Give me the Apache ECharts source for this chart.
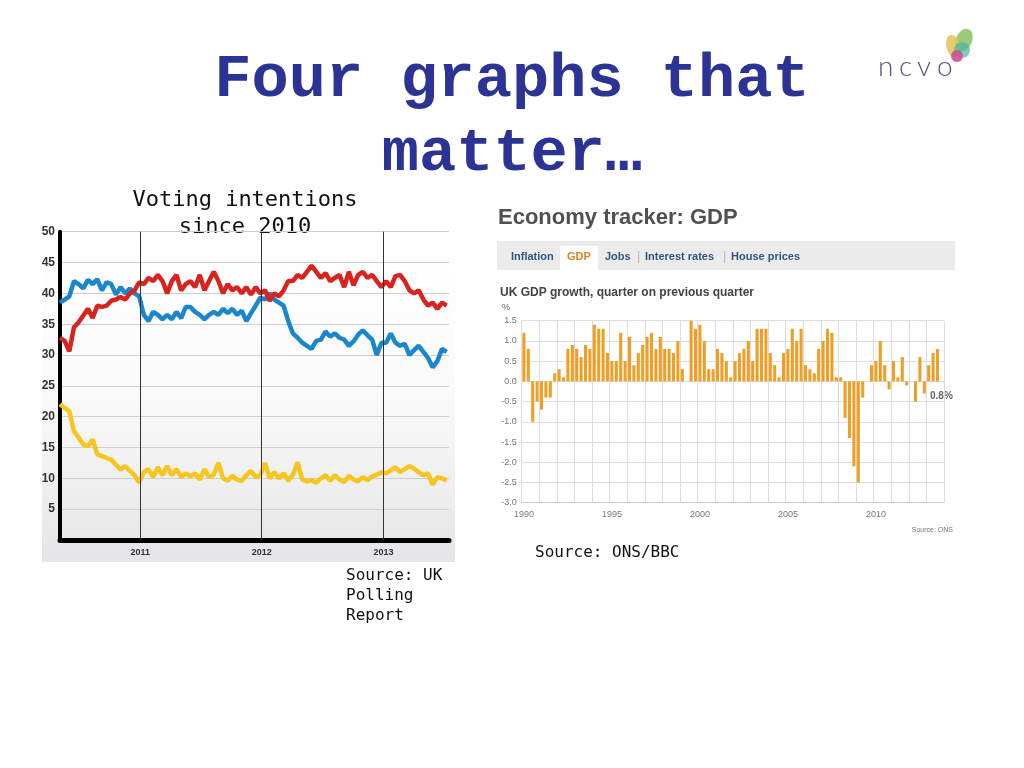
<!DOCTYPE html>
<html><head><meta charset="utf-8">
<script src="https://cdn.jsdelivr.net/npm/echarts@6.0.0/dist/echarts.min.js"></script>
<style>html,body{margin:0;padding:0;background:#fff}#c{width:1024px;height:768px}</style>
</head><body><div id="c"></div>
<script>
// ---------- Voting intentions (fortnightly readings) ----------
const pollStart = '2010-05-05';
const pollStepDays = 14;
const pollEnd = '2013-07-17';
const labour = [32.8,32.3,30.6,34.5,35.3,36.4,37.5,36.0,38.0,37.8,38.0,38.8,39.0,39.4,
  39.0,40.0,40.5,41.8,41.5,42.5,42.0,43.0,42.0,40.0,42.0,43.0,40.5,41.5,
  42.0,41.0,43.0,40.5,42.0,43.5,42.0,40.0,41.5,40.5,41.0,40.0,41.0,39.8,
  41.0,40.0,40.5,38.8,40.0,39.5,40.5,42.0,42.0,43.0,42.5,43.5,44.5,43.5,
  42.5,43.3,42.0,42.5,43.0,41.0,43.5,41.3,43.0,43.5,42.5,43.0,42.0,41.0,
  42.0,41.0,42.8,43.0,42.0,40.5,40.0,40.5,39.0,38.0,38.5,37.5,38.5,38.0];
const conservative = [38.5,39.0,39.5,42.0,41.5,40.8,42.2,41.5,42.3,40.5,41.8,41.5,39.8,41.0,
  40.0,40.8,40.0,39.5,36.5,35.5,37.0,36.5,35.8,36.5,35.8,37.0,36.0,37.8,
  37.8,37.0,36.5,35.8,36.5,37.0,36.5,37.5,36.8,37.5,36.5,37.2,35.5,36.8,
  38.0,39.3,39.0,40.0,39.0,38.5,38.0,35.5,33.5,32.8,32.0,31.5,31.0,32.3,
  32.5,33.8,33.0,33.5,32.8,32.5,31.5,32.2,33.3,34.0,33.2,32.5,30.0,32.0,
  32.0,33.5,32.0,31.5,31.8,30.0,30.8,31.5,30.5,29.5,28.0,29.0,31.0,30.5];
const libDem = [22.0,21.4,20.9,17.6,16.6,15.5,15.2,16.3,13.9,13.6,13.3,13.0,12.2,11.4,
  12.0,11.2,10.5,9.3,11.0,11.5,10.2,11.8,10.5,12.0,10.5,11.5,10.2,10.8,
  10.3,10.8,9.8,11.5,10.2,10.6,12.5,10.0,9.6,10.4,9.8,9.6,10.5,11.2,
  10.2,10.5,12.5,10.0,11.0,10.0,10.8,9.6,10.6,12.6,9.8,9.5,9.7,9.3,
  10.0,10.5,9.6,10.5,9.8,9.4,10.4,9.8,9.5,10.2,9.7,10.3,10.6,11.0,
  10.8,11.3,11.8,11.0,11.5,12.0,11.6,11.0,10.5,10.8,9.0,10.2,10.0,9.6];
const yearMarks = ['2011-01-01','2012-01-01','2013-01-01'];
const yearMarkLabels = ['2011','2012','2013'];

// ---------- UK GDP growth, quarter on previous quarter ----------
const gdpFirstYear = 1990, gdpLastYear = 2013;
const gdpGrowth = [1.2,0.8,-1.0,-0.5,-0.7,-0.4,-0.4,0.2,0.3,0.1,0.8,0.9,0.8,0.6,0.9,0.8,
  1.4,1.3,1.3,0.7,0.5,0.5,1.2,0.5,1.1,0.4,0.7,0.9,1.1,1.2,0.8,1.1,
  0.8,0.8,0.7,1.0,0.3,0.0,1.5,1.3,1.4,1.0,0.3,0.3,0.8,0.7,0.5,0.1,
  0.5,0.7,0.8,1.0,0.5,1.3,1.3,1.3,0.7,0.4,0.1,0.7,0.8,1.3,1.0,1.3,
  0.4,0.3,0.2,0.8,1.0,1.3,1.2,0.1,0.1,-0.9,-1.4,-2.1,-2.5,-0.4,0.0,0.4,
  0.5,1.0,0.4,-0.2,0.5,0.1,0.6,-0.1,0.0,-0.5,0.6,-0.3,0.4,0.7,0.8];
const gdpYTicks = {min:-3, max:1.5, step:0.5};
const gdpLatestLabel = '0.8%';

const toTime = s => new Date(s + 'T00:00:00').getTime();
const startT = toTime(pollStart);
const pollTimes = labour.map((_, i) => startT + i * pollStepDays * 86400000);
const gdpQuarters = [];
for (let y = gdpFirstYear; y <= gdpLastYear; y++) for (let q = 1; q <= 4; q++) gdpQuarters.push(y + ' Q' + q);

const mono = '"DejaVu Sans Mono", "Liberation Mono", monospace';
const titleMono = '"Liberation Mono", "DejaVu Sans Mono", monospace';
const sans = '"Liberation Sans", Arial, sans-serif';
const logoFont = '300 28px Lato, "Open Sans", sans-serif';
const chart = echarts.init(document.getElementById('c'), null, {renderer:'canvas'});

const txt = (x, y, text, font, fill, align, extra) => Object.assign({
  type:'text', x, y, silent:true,
  style:{text, font, fill, textAlign: align || 'left', textVerticalAlign:'middle'}
}, extra || {});

chart.setOption({
  animation:false,
  backgroundColor:'#ffffff',
  grid:[
    {left:60, top:231.7, width:389, height:308.3},
    {left:521.7, top:320.7, width:422.4, height:182}
  ],
  xAxis:[
    {gridIndex:0, type:'time', min:startT, max:toTime(pollEnd),
     axisLine:{show:true, onZero:false, lineStyle:{color:'#000', width:5}},
     axisTick:{show:false}, axisLabel:{show:false}, splitLine:{show:false}},
    {gridIndex:1, type:'category', data:gdpQuarters, boundaryGap:true,
     axisLine:{show:true, onZero:false, lineStyle:{color:'#cccccc'}},
     axisTick:{show:false},
     axisLabel:{interval:(i) => i % 20 === 0 && i <= 80, formatter:v => v.slice(0,4),
       color:'#777', fontSize:9, fontFamily:sans, margin:7},
     splitLine:{show:true, interval:(i) => i % 4 === 0, lineStyle:{color:'#dddddd'}}}
  ],
  yAxis:[
    {gridIndex:0, type:'value', min:0, max:50, interval:5,
     axisLine:{show:true, lineStyle:{color:'#000', width:4}}, axisTick:{show:false},
     axisLabel:{formatter:v => v === 0 ? '' : String(v), fontFamily:'"Liberation Sans Narrow", "Liberation Sans", sans-serif',
       fontWeight:'bold', fontSize:12, color:'#333', margin:5},
     splitLine:{lineStyle:{color:'#cfcfcf'}}},
    {gridIndex:1, type:'value', min:gdpYTicks.min, max:gdpYTicks.max, interval:gdpYTicks.step,
     axisLine:{show:false}, axisTick:{show:false},
     axisLabel:{formatter:v => v.toFixed(1), fontSize:9, color:'#777', fontFamily:sans, margin:5},
     splitLine:{lineStyle:{color:'#dddddd'}}}
  ],
  series:[
    {type:'line', name:'Conservative', xAxisIndex:0, yAxisIndex:0, showSymbol:false, z:3,
     data:pollTimes.map((t, i) => [t, conservative[i]]),
     lineStyle:{color:'#1a86cc', width:4.5},
     markLine:{silent:true, symbol:['none','none'], animation:false,
       lineStyle:{color:'#333', width:1, type:'solid'},
       label:{position:'start', formatter:p => p.name, fontSize:9, fontWeight:'bold', color:'#333', fontFamily:sans, distance:8},
       data:yearMarks.map((d, i) => ({name:yearMarkLabels[i], xAxis:toTime(d)}))}},
    {type:'line', name:'Labour', xAxisIndex:0, yAxisIndex:0, showSymbol:false, z:4,
     data:pollTimes.map((t, i) => [t, labour[i]]),
     lineStyle:{color:'#d8231f', width:4.5}},
    {type:'line', name:'Lib Dem', xAxisIndex:0, yAxisIndex:0, showSymbol:false, z:4,
     data:pollTimes.map((t, i) => [t, libDem[i]]),
     lineStyle:{color:'#f7c51e', width:4.5}},
    {type:'bar', name:'GDP growth', xAxisIndex:1, yAxisIndex:1, barWidth:'70%',
     data:gdpGrowth, itemStyle:{color:'#EF9E26'}}
  ],
  graphic:[
    {type:'rect', z:-10, silent:true, shape:{x:42, y:228, width:413, height:334},
     style:{fill:new echarts.graphic.LinearGradient(0,0,0,1,[
       {offset:0, color:'#ffffff'},{offset:0.5, color:'#fafafa'},{offset:1, color:'#e5e5e7'}])}},
    txt(512, 80, 'Four graphs that', 'bold 62px ' + titleMono, '#2B3394', 'center'),
    txt(512, 154, 'matter\u2026', 'bold 62px ' + titleMono, '#2B3394', 'center'),
    txt(245, 200, 'Voting intentions', '22px ' + mono, '#111', 'center'),
    txt(245, 227, 'since 2010', '22px ' + mono, '#111', 'center'),
    txt(346, 576, 'Source: UK', '16px ' + mono, '#111'),
    txt(346, 596, 'Polling', '16px ' + mono, '#111'),
    txt(346, 616, 'Report', '16px ' + mono, '#111'),
    txt(535, 553, 'Source: ONS/BBC', '16px ' + mono, '#111'),
    txt(498, 218, 'Economy tracker: GDP', 'bold 22px ' + sans, '#505050'),
    {type:'rect', silent:true, shape:{x:497, y:241, width:458, height:29}, style:{fill:'#ebebeb'}},
    {type:'rect', silent:true, shape:{x:560, y:246, width:38, height:24}, style:{fill:'#ffffff'}},
    txt(511, 257, 'Inflation', 'bold 11px ' + sans, '#2f5587'),
    txt(567, 257, 'GDP', 'bold 11px ' + sans, '#e0821e'),
    txt(605, 257, 'Jobs', 'bold 11px ' + sans, '#2f5587'),
    txt(637, 256, '|', '13px ' + sans, '#bbbbbb'),
    txt(645, 257, 'Interest rates', 'bold 11px ' + sans, '#2f5587'),
    txt(723, 256, '|', '13px ' + sans, '#bbbbbb'),
    txt(731, 257, 'House prices', 'bold 11px ' + sans, '#2f5587'),
    txt(500, 293, 'UK GDP growth, quarter on previous quarter', 'bold 12px ' + sans, '#444'),
    txt(502, 308, '%', '9px ' + sans, '#666'),
    txt(930, 396, gdpLatestLabel, 'bold 10px ' + sans, '#666'),
    txt(953, 530, 'Source: ONS', '7px ' + sans, '#777', 'right'),
    // ncvo logo
    {type:'circle', silent:true, shape:{cx:0, cy:0, r:9}, x:964, y:40, scaleX:0.9, scaleY:1.3, rotation:-0.4,
     style:{fill:'#8cc063', opacity:0.85}},
    {type:'circle', silent:true, shape:{cx:0, cy:0, r:9}, x:953, y:46, scaleX:0.75, scaleY:1.25, rotation:0.2,
     style:{fill:'#e2c25a', opacity:0.85}},
    {type:'circle', silent:true, shape:{cx:962, cy:50, r:8}, style:{fill:'#47b6a2', opacity:0.7}},
    {type:'circle', silent:true, shape:{cx:957, cy:56, r:6}, style:{fill:'#d1508f', opacity:0.9}},
    txt(878, 67, 'n', logoFont, '#5d4f86'),
    txt(899, 67, 'c', logoFont, '#5d4f86'),
    txt(917, 67, 'v', logoFont, '#5d4f86'),
    txt(937, 67, 'o', logoFont, '#5d4f86')
  ]
});
</script></body></html>
